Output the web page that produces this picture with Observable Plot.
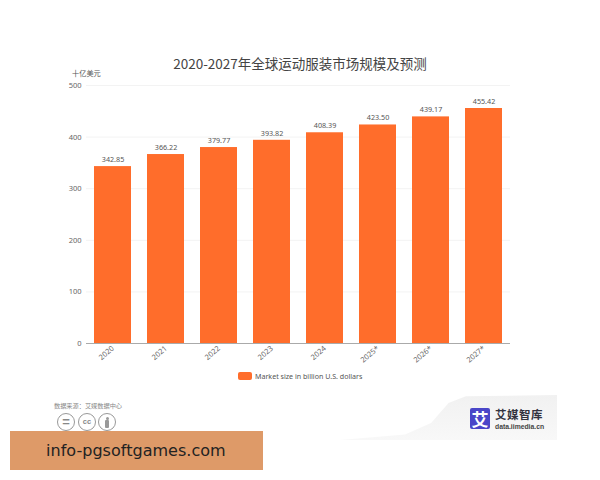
<!DOCTYPE html>
<html><head><meta charset="utf-8">
<script src="https://cdn.jsdelivr.net/npm/d3@7"></script>
<script src="https://cdn.jsdelivr.net/npm/@observablehq/plot@0.6"></script>
<style>
html,body{margin:0;padding:0;background:#fff;width:600px;height:480px;overflow:hidden;font-family:"Noto Sans CJK SC","Noto Sans",sans-serif}
#wrap{position:relative;width:600px;height:480px}
.a{position:absolute;white-space:nowrap}
#chart{position:absolute;left:0;top:0}
#chart svg{display:block}
.cc{position:absolute;top:413px;width:16px;height:16px;border:1.5px solid #999;border-radius:50%;background:#fff;color:#888;font:bold 7.5px/16px "Liberation Sans",sans-serif;text-align:center}
</style></head><body>
<div id="wrap">
<div class="a" style="left:340px;top:395px;width:217px;height:45px;background:linear-gradient(180deg,#f1f1f1,#f8f8f8);clip-path:polygon(0 100%,30% 88%,42% 62%,50% 18%,58% 3%,100% 0,100% 100%)"></div>
<div id="chart"></div>
<div class="a" style="left:0;width:600px;text-align:center;top:53px;font-size:13.5px;line-height:20px;color:#444">2020-2027年全球运动服装市场规模及预测</div>
<div class="a" style="left:72px;top:68px;font-size:7.2px;line-height:11px;color:#555">十亿美元</div>
<div class="a" style="left:238px;top:372px;width:14px;height:8px;background:#FF6D2B;border-radius:2px"></div>
<div class="a" style="left:255px;top:370px;font:7.1px/12px 'Noto Sans',sans-serif;color:#555">Market size in billion U.S. dollars</div>
<div class="a" style="left:54px;top:401px;font-size:6.2px;line-height:10px;color:#888">数据来源：艾媒数据中心</div>
<div class="cc" style="left:57px;font-size:13px">=</div>
<div class="cc" style="left:78px">cc</div>
<div class="cc" style="left:98px">
  <div style="position:absolute;left:6.5px;top:2.5px;width:3px;height:3px;border-radius:50%;background:#999"></div>
  <div style="position:absolute;left:6px;top:6px;width:4px;height:8px;background:#999;border-radius:1px"></div>
</div>
<div class="a" style="left:470px;top:408px;width:20px;height:21px;background:#4A46C8;border-radius:2px;color:#fff;font-size:17px;font-weight:700;line-height:21px;text-align:center">艾</div>
<div class="a" style="left:495px;top:407px;font-size:11.5px;font-weight:700;line-height:14px;color:#33333f;letter-spacing:.5px">艾媒智库</div>
<div class="a" style="left:495px;top:423px;font:bold 6.8px/8px 'Liberation Sans',sans-serif;color:#444">data.iimedia.cn</div>
<div class="a" style="left:10px;top:431px;width:253px;height:39px;background:#DE9A68"></div>
<div class="a" style="left:46px;top:440px;font:16px/21px 'DejaVu Sans',sans-serif;color:#222;letter-spacing:.03px">info-pgsoftgames.com</div>
</div>
<script>
const years = ["2020","2021","2022","2023","2024","2025*","2026*","2027*"];
const values = [342.85,366.22,379.77,393.82,408.39,423.50,439.17,455.42];
const labels = ["342.85","366.22","379.77","393.82","408.39","423.50","439.17","455.42"];
const yTicks = [0,100,200,300,400,500];
const barColor = "#FF6D2B";
const rows = years.map((year,i)=>({year,value:values[i],label:labels[i]}));
const plot = Plot.plot({
  width:600,height:480,marginTop:85,marginBottom:137,marginLeft:86,marginRight:90,
  style:{background:"transparent",fontFamily:"'Noto Sans','Noto Sans CJK SC',sans-serif",fontSize:"7.5px",color:"#666"},
  x:{domain:years,label:null,paddingInner:0.3,paddingOuter:0.15,tickSize:0,tickRotate:-40,tickPadding:4},
  y:{domain:[0,500],label:null,ticks:yTicks,tickSize:0,tickPadding:5},
  marks:[
    Plot.gridY(yTicks,{stroke:"#f3f3f3",strokeOpacity:1}),
    Plot.barY(rows,{x:"year",y:"value",fill:barColor}),
    Plot.text(rows,{x:"year",y:"value",text:"label",dy:-7,fill:"#555",fontSize:7.2}),
    Plot.ruleY([0],{stroke:"#aaa"})
  ]
});
document.getElementById("chart").append(plot);
</script>
</body></html>
